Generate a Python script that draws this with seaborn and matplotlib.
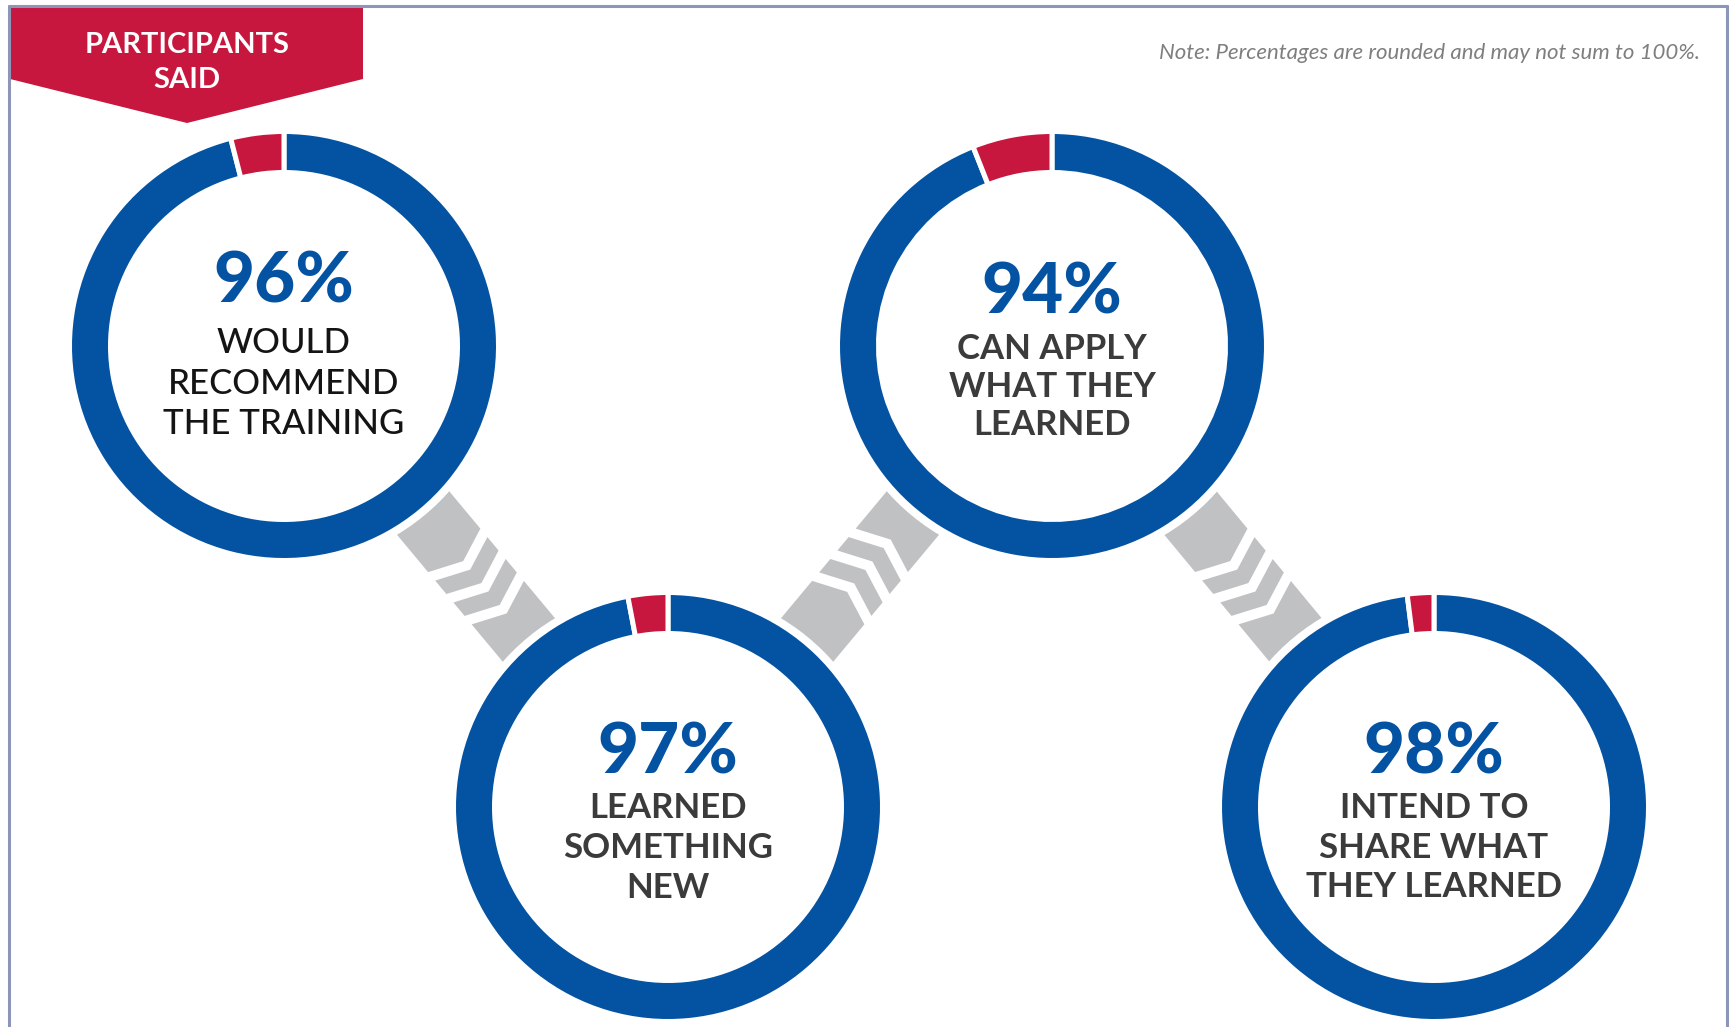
import numpy as np
import matplotlib
matplotlib.use('Agg')
import matplotlib.pyplot as plt
from matplotlib.patches import Polygon, Circle
import seaborn as sns

sns.set_theme(style='white')
plt.rcParams['font.family'] = ['Lato', 'DejaVu Sans']

# survey results (percent of participants)
pct_yes = [96, 97, 94, 98]
label_lines = [
    ['WOULD', 'RECOMMEND', 'THE TRAINING'],
    ['LEARNED', 'SOMETHING', 'NEW'],
    ['CAN APPLY', 'WHAT THEY', 'LEARNED'],
    ['INTEND TO', 'SHARE WHAT', 'THEY LEARNED'],
]
banner_lines = ['PARTICIPANTS', 'SAID']
note = 'Note: Percentages are rounded and may not sum to 100%.'

BLUE = '#0453a3'
RED = '#c8173f'
GRAY = '#c0c1c3'
FRAME = '#8d95b8'

W, H = 1734, 1027
centers = [(284, 346), (668, 807), (1052, 346), (1434, 807)]
R_OUT, RING, HALO = 212, 36, 8
pct_dy = [-69, -59, -58, -59]
line_dy0 = [-5, -1, 1, -1]
line_gap = [40.5, 40, 38, 39.5]
label_style = [('medium', '#141414'), ('bold', '#3b3b3b'),
               ('bold', '#3b3b3b'), ('bold', '#3b3b3b')]

fig = plt.figure(figsize=(W / 100, H / 100), dpi=100)
ax = fig.add_axes([0, 0, 1, 1])


def cap_text(x, yc, s, size, **kw):
    # put the middle of the capitals at yc (pixel units, y down)
    base = yc + 0.5 * 0.7165 * size * 100 / 72
    ax.text(x, base, s, fontsize=size, ha='center', va='baseline', **kw)


def connector(p0, p1):
    p0, p1 = np.array(p0, float), np.array(p1, float)
    e = (p1 - p0) / np.linalg.norm(p1 - p0)
    n = np.array([-e[1], e[0]])
    mid = (p0 + p1) / 2
    half, tip = 34, 14
    for u0, u1 in [(-300, -34), (-23, -5.5), (5.5, 23), (34, 300)]:
        uv = [(u0, -half), (u0 + tip, 0), (u0, half),
              (u1, half), (u1 + tip, 0), (u1, -half)]
        pts = [mid + u * e + v * n for u, v in uv]
        ax.add_patch(Polygon(pts, closed=True, fc=GRAY, ec='none', zorder=1))


for a, b in zip(centers[:-1], centers[1:]):
    connector(a, b)

for i, (c, p) in enumerate(zip(centers, pct_yes)):
    ax.add_patch(Circle(c, R_OUT + HALO, fc='white', ec='none', zorder=2))
    ax.pie([p, 100 - p], colors=[BLUE, RED], center=c, radius=R_OUT + 2.5,
           startangle=270, counterclock=True,
           wedgeprops=dict(width=RING + 5, edgecolor='white', linewidth=3.6, zorder=3))
    cx, cy = c
    cap_text(cx, cy + pct_dy[i], f'{p}%', 51, color=BLUE, weight='black', zorder=5)
    wt, col = label_style[i]
    for k, line in enumerate(label_lines[i]):
        cap_text(cx, cy + line_dy0[i] + k * line_gap[i], line, 25,
                 color=col, weight=wt, zorder=5)

# frame lines
ax.plot([8.5, 8.5], [5.5, H], color=FRAME, lw=2.2, zorder=6)
ax.plot([8.5, 1727], [5.5, 5.5], color=FRAME, lw=2.2, zorder=6)
ax.plot([1727, 1727], [5.5, H], color=FRAME, lw=2.2, zorder=6)

# banner
ax.add_patch(Polygon([(10, 7), (363, 7), (363, 79), (187, 123), (10, 79)],
                     closed=True, fc=RED, ec='none', zorder=4))
cap_text(187, 42.5, banner_lines[0], 21, color='white', weight='bold', zorder=5)
cap_text(187, 77.5, banner_lines[1], 21, color='white', weight='bold', zorder=5)

ax.text(1700, 53, note, fontsize=16, ha='right', va='center', style='italic',
        weight='normal', color='#7f7f7f', zorder=5)

ax.set_xlim(0, W)
ax.set_ylim(H, 0)
ax.set_aspect('equal')
ax.axis('off')
fig.savefig('out.png', dpi=100, facecolor='white')
